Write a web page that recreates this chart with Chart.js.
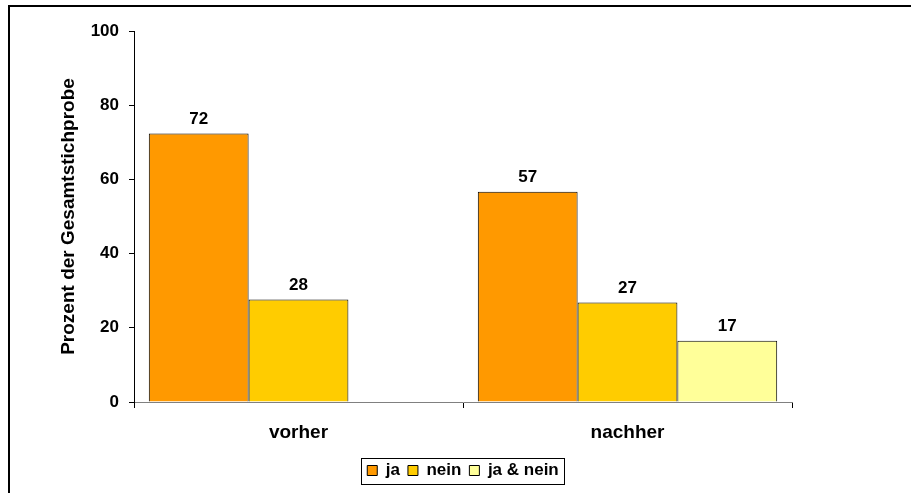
<!DOCTYPE html>
<html>
<head>
<meta charset="utf-8">
<script src="https://cdn.jsdelivr.net/npm/chart.js@4"></script>
<style>
  body { margin: 0; background: #fff; overflow: hidden; }
  #wrap { position: relative; width: 911px; height: 493px; }
  #frame { position: absolute; left: 8px; top: 5px; width: 1000px; height: 1000px;
           border-top: 2px solid #000; border-left: 2px solid #000; pointer-events: none; }
</style>
</head>
<body>
<div id="wrap">
  <canvas id="chart" width="911" height="493"></canvas>
  <div id="frame"></div>
</div>
<script>
// Data
const categories = ['vorher', 'nachher'];
const jaValues = [72.4, 56.7];
const neinValues = [27.6, 26.8];
const jaNeinValues = [null, 16.5];
const yTicks = [0, 20, 40, 60, 80, 100];

const FONT = "'Liberation Sans', Arial, sans-serif";

// value labels above bars
const valueLabels = {
    id: 'valueLabels',
    afterDatasetsDraw(chart) {
        const ctx = chart.ctx;
        ctx.save();
        ctx.font = 'bold 17px ' + FONT;
        ctx.fillStyle = '#000';
        ctx.textAlign = 'center';
        ctx.textBaseline = 'bottom';
        chart.data.datasets.forEach((ds, i) => {
            chart.getDatasetMeta(i).data.forEach((bar, j) => {
                const v = ds.data[j];
                if (v === null) return;
                ctx.fillText(Math.round(v), bar.x, bar.y - 6);
            });
        });
        ctx.restore();
    }
};

// frame around the legend
const legendBox = {
    id: 'legendBox',
    afterDraw(chart) {
        const boxes = chart.legend.legendHitBoxes;
        if (!boxes || !boxes.length) return;
        const left = Math.min(...boxes.map(b => b.left)) - 6;
        const right = Math.max(...boxes.map(b => b.left + b.width)) + 6;
        const top = Math.min(...boxes.map(b => b.top)) - 4;
        const bottom = Math.max(...boxes.map(b => b.top + b.height)) + 5;
        const ctx = chart.ctx;
        ctx.save();
        ctx.strokeStyle = '#000';
        ctx.lineWidth = 1;
        ctx.strokeRect(Math.round(left) + 0.5, Math.round(top) + 0.5,
                       Math.round(right - left), Math.round(bottom - top));
        ctx.restore();
    }
};

const ctx = document.getElementById('chart').getContext('2d');

new Chart(ctx, {
    type: 'bar',
    data: {
        labels: categories,
        datasets: [
            { label: 'ja', data: jaValues, backgroundColor: '#FF9900' },
            { label: 'nein', data: neinValues, backgroundColor: '#FFCC00' },
            { label: 'ja & nein', data: jaNeinValues, backgroundColor: '#FFFF99' }
        ]
    },
    options: {
        responsive: false,
        animation: false,
        devicePixelRatio: 1,
        layout: { padding: { top: 31, right: 119, left: 0, bottom: 4 } },
        datasets: {
            bar: {
                categoryPercentage: 0.91,
                barPercentage: 1.0,
                borderColor: '#000',
                borderWidth: 1
            }
        },
        plugins: {
            legend: {
                position: 'bottom',
                fullSize: false,
                labels: {
                    color: '#000',
                    font: { family: FONT, size: 17, weight: 'bold' },
                    boxWidth: 10,
                    boxHeight: 10,
                    padding: 8,
                    generateLabels(chart) {
                        return chart.data.datasets.map((ds, i) => ({
                            text: ds.label,
                            fillStyle: ds.backgroundColor,
                            strokeStyle: '#000',
                            lineWidth: 1,
                            datasetIndex: i
                        }));
                    }
                }
            },
            tooltip: { enabled: false }
        },
        scales: {
            x: {
                grid: {
                    offset: true,
                    drawOnChartArea: false,
                    tickLength: 6,
                    color: '#000'
                },
                border: { color: '#808080', width: 1 },
                ticks: {
                    color: '#000',
                    padding: 13,
                    font: { family: FONT, size: 19, weight: 'bold' }
                },
                afterFit(scale) { scale.height = 52; }
            },
            y: {
                min: 0,
                max: 100,
                afterBuildTicks(scale) { scale.ticks = yTicks.map(v => ({ value: v })); },
                grid: {
                    drawOnChartArea: false,
                    tickLength: 5,
                    color: '#000'
                },
                border: { color: '#000', width: 1 },
                ticks: {
                    color: '#000',
                    padding: 10,
                    font: { family: FONT, size: 17, weight: 'bold' }
                },
                title: {
                    display: true,
                    text: 'Prozent der Gesamtstichprobe',
                    color: '#000',
                    padding: { top: 57, bottom: 0 },
                    font: { family: FONT, size: 19, weight: 'bold' }
                },
                afterFit(scale) { scale.width = 134; }
            }
        }
    },
    plugins: [valueLabels, legendBox]
});
</script>
</body>
</html>
